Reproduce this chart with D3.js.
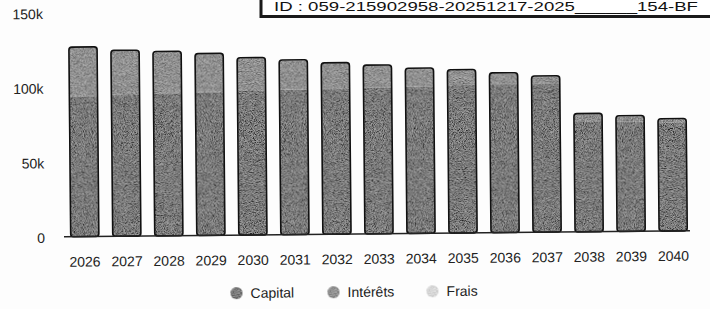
<!DOCTYPE html>
<html>
<head>
<meta charset="utf-8">
<script src="https://cdn.jsdelivr.net/npm/d3@7"></script>
<style>
  body { margin: 0; background: #fdfdfd; }
  svg { display: block; font-family: "Liberation Sans", Arial, sans-serif; }
</style>
</head>
<body>
<svg width="710" height="309"></svg>
<script>
// chart data
var years = ['2026', '2027', '2028', '2029', '2030', '2031', '2032', '2033', '2034', '2035', '2036', '2037', '2038', '2039', '2040'];
var capital = [94000, 95000, 95500, 96000, 96500, 97000, 97500, 98000, 98500, 99000, 99500, 99500, 74000, 73500, 72500];
var interets = [32700, 29200, 27700, 25500, 22000, 19700, 17000, 14700, 11900, 10100, 7200, 4900, 4900, 3700, 2400];
var frais = [300, 300, 300, 300, 300, 300, 300, 300, 300, 300, 300, 300, 300, 300, 300];
var yTicks = [0, 50000, 100000, 150000];
var seriesNames = ['Capital', 'Intérêts', 'Frais'];
var seriesColors = ['#2a2a2a', '#6e6e6e', '#e4e4e4'];
var stampText = 'ID : 059-215902958-20251217-2025______154-BF';

var svg = d3.select('svg');

// grain filter to mimic the scanned texture
var defs = svg.append('defs');
var grain = defs.append('filter').attr('id', 'grain')
    .attr('x', 0).attr('y', 0).attr('width', 1).attr('height', 1);
grain.append('feTurbulence')
    .attr('type', 'fractalNoise')
    .attr('baseFrequency', 1.1)
    .attr('numOctaves', 2)
    .attr('seed', 7)
    .attr('result', 'noise');
grain.append('feColorMatrix')
    .attr('in', 'noise')
    .attr('type', 'matrix')
    .attr('values', '2.2 0 0 0 -0.6  2.2 0 0 0 -0.6  2.2 0 0 0 -0.6  0 0 0 0 0.36')
    .attr('result', 'dots');
grain.append('feComposite')
    .attr('in', 'dots').attr('in2', 'SourceGraphic')
    .attr('operator', 'in').attr('result', 'speck');
grain.append('feMerge').selectAll('feMergeNode')
    .data(['SourceGraphic', 'speck']).enter()
    .append('feMergeNode').attr('in', function(d) { return d; });

// the scan is slightly tilted
var g = svg.append('g').attr('transform', 'rotate(-0.55, 45, 237)');

var x = d3.scaleBand().domain(years).range([64, 694]).paddingInner(0.33).paddingOuter(0.16);
var y = d3.scaleLinear().domain([0, 150000]).range([237, 13]);

var table = years.map(function(yr, i) {
  return { year: yr, Capital: capital[i], 'Intérêts': interets[i], Frais: frais[i] };
});
var stack = d3.stack().keys(seriesNames)(table);

// stacked segments
g.append('g').selectAll('g')
  .data(stack).enter()
  .append('g')
    .attr('fill', function(d, i) { return seriesColors[i]; })
    .attr('filter', 'url(#grain)')
  .selectAll('rect')
  .data(function(d) { return d; }).enter()
  .append('rect')
    .attr('x', function(d) { return x(d.data.year); })
    .attr('y', function(d) { return y(d[1]); })
    .attr('width', x.bandwidth())
    .attr('height', function(d) { return y(d[0]) - y(d[1]); });

// outline around each whole bar
g.append('g').selectAll('rect')
  .data(table).enter()
  .append('rect')
    .attr('x', function(d) { return x(d.year); })
    .attr('y', function(d) { return y(d.Capital + d['Intérêts'] + d.Frais); })
    .attr('width', x.bandwidth())
    .attr('height', function(d) { return y(0) - y(d.Capital + d['Intérêts'] + d.Frais); })
    .attr('rx', 3)
    .attr('fill', 'none')
    .attr('stroke', '#111')
    .attr('stroke-width', 1.6);

// baseline
g.append('line')
  .attr('x1', 64).attr('x2', 690)
  .attr('y1', y(0)).attr('y2', y(0))
  .attr('stroke', '#222').attr('stroke-width', 1.6);

// y axis labels
var yAxis = d3.axisLeft(y).tickValues(yTicks).tickSize(0).tickPadding(0)
  .tickFormat(function(d) { return d === 0 ? '0' : (d / 1000) + 'k'; });
g.append('g').attr('transform', 'translate(45,1)').call(yAxis)
  .call(function(s) { s.select('.domain').remove(); })
  .selectAll('text')
    .attr('font-size', 14).attr('fill', '#222')
    .attr('font-family', '"Liberation Sans", Arial, sans-serif');

// x axis labels
var xAxis = d3.axisBottom(x).tickSize(0).tickPadding(0);
g.append('g').attr('transform', 'translate(0,257)').call(xAxis)
  .call(function(s) { s.select('.domain').remove(); })
  .selectAll('text')
    .attr('font-size', 14).attr('fill', '#222')
    .attr('font-family', '"Liberation Sans", Arial, sans-serif');

// legend
var legendX = [236, 333, 432];
var legend = g.append('g').selectAll('g')
  .data(seriesNames).enter()
  .append('g')
    .attr('transform', function(d, i) { return 'translate(' + legendX[i] + ',295)'; });
legend.append('circle')
  .attr('r', 6)
  .attr('fill', function(d, i) { return seriesColors[i]; })
  .attr('filter', 'url(#grain)');
legend.append('text')
  .attr('x', 14).attr('dy', '0.35em')
  .attr('font-size', 14).attr('fill', '#222')
  .text(function(d) { return d; });

// stamp box at the top
var stamp = svg.append('g');
stamp.append('rect')
  .attr('x', 261).attr('y', -20).attr('width', 470).attr('height', 36.5)
  .attr('fill', '#fff').attr('stroke', '#1a1a1a').attr('stroke-width', 3);
stamp.append('text')
  .attr('x', 274).attr('y', 11)
  .attr('font-size', 12.5).attr('fill', '#111')
  .attr('textLength', 424).attr('lengthAdjust', 'spacingAndGlyphs')
  .text(stampText);
</script>
</body>
</html>
